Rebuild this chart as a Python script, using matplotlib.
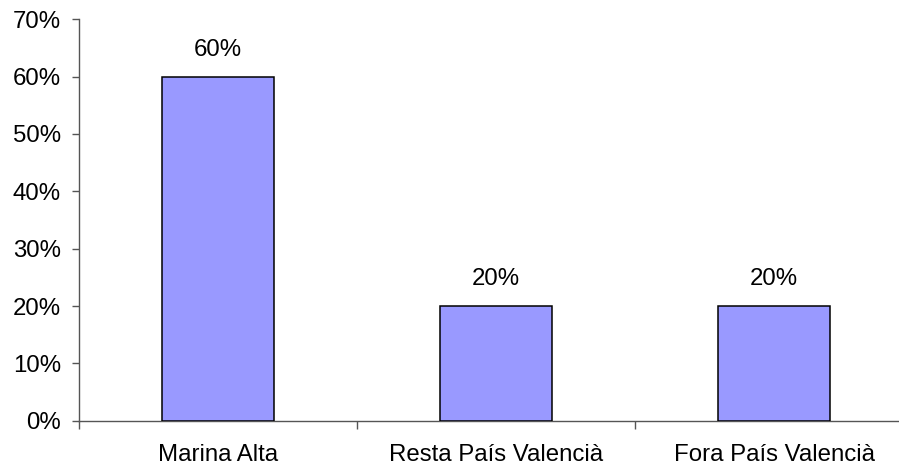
import matplotlib.pyplot as plt
from matplotlib.ticker import PercentFormatter

# Data
categories = ["Marina Alta", "Resta País Valencià", "Fora País Valencià"]
values = [0.60, 0.20, 0.20]
value_labels = ["60%", "20%", "20%"]
y_ticks = [0.0, 0.1, 0.2, 0.3, 0.4, 0.5, 0.6, 0.7]

plt.rcParams['font.family'] = ['Liberation Sans', 'DejaVu Sans']
FS = 17.3

fig = plt.figure(figsize=(8.99, 4.69), dpi=100)
# axes runs past the right edge, like the original
ax = fig.add_axes([79 / 899, 1 - 420.7 / 469, 834 / 899, 401.4 / 469])

x = range(len(categories))
bars = ax.bar(x, values, width=0.4, color="#9999FF", edgecolor="black", linewidth=1.1, zorder=3)

for bar, lab in zip(bars, value_labels):
    ax.text(bar.get_x() + bar.get_width() / 2, bar.get_height() + 0.028, lab,
            ha="center", va="bottom", fontsize=FS)

ax.set_xlim(-0.5, 2.5)
ax.set_ylim(0, 0.7)
ax.set_yticks(y_ticks)
ax.yaxis.set_major_formatter(PercentFormatter(1.0, decimals=0))

# category labels in the middle, tick marks on the boundaries
ax.set_xticks([-0.5, 0.5, 1.5, 2.5])
ax.set_xticklabels([])
ax.set_xticks(list(x), minor=True)
ax.set_xticklabels(categories, minor=True)
ax.tick_params(axis="x", which="minor", length=0, pad=17, labelsize=FS)
ax.tick_params(axis="x", which="major", length=6, width=1, color="#555555")
ax.tick_params(axis="y", length=5, width=1, color="#555555", pad=8, labelsize=FS)

for s in ["top", "right"]:
    ax.spines[s].set_visible(False)
for s in ["left", "bottom"]:
    ax.spines[s].set_color("#555555")
    ax.spines[s].set_linewidth(1)

fig.savefig("out.png", dpi=100)
